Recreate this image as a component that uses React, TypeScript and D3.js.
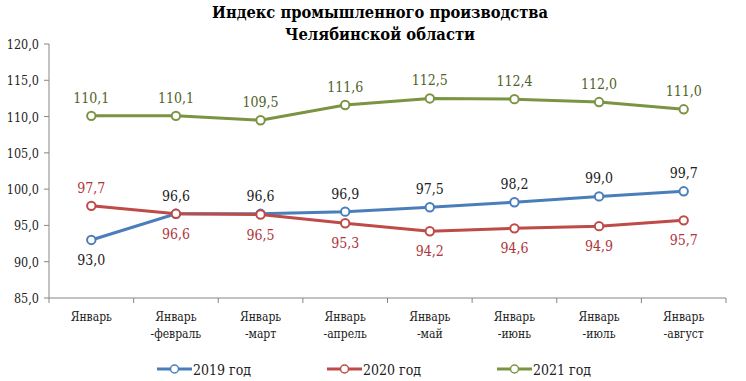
import React from "react";
import * as d3 from "d3";

const categories = [
  ["Январь"],
  ["Январь", "-февраль"],
  ["Январь", "-март"],
  ["Январь", "-апрель"],
  ["Январь", "-май"],
  ["Январь", "-июнь"],
  ["Январь", "-июль"],
  ["Январь", "-август"],
];
const series2019 = [93.0, 96.6, 96.6, 96.9, 97.5, 98.2, 99.0, 99.7];
const series2020 = [97.7, 96.6, 96.5, 95.3, 94.2, 94.6, 94.9, 95.7];
const series2021 = [110.1, 110.1, 109.5, 111.6, 112.5, 112.4, 112.0, 111.0];
const yTicks = [85, 90, 95, 100, 105, 110, 115, 120];
const seriesNames = ["2019 год", "2020 год", "2021 год"];

const W = 746, H = 381;
const left = 49, right = 726, top = 44, bottom = 298;

export default function App() {
  const x = d3.scaleBand<number>().domain(categories.map((_, i) => i)).range([left, right]);
  const y = d3.scaleLinear().domain([85, 120]).range([bottom, top]);
  const cx = (i: number) => (x(i) as number) + x.bandwidth() / 2;
  const fmt = (v: number) => v.toFixed(1).replace(".", ",");
  const line = d3.line<number>().x((_, i) => cx(i)).y((d) => y(d));

  const series = [
    { name: seriesNames[0], data: series2019, color: "#4A7EBB", label: "#222", pos: (i: number) => (i === 0 ? 1 : -1) },
    { name: seriesNames[1], data: series2020, color: "#BE4B48", label: "#B0363A", pos: (i: number) => (i === 0 ? -1 : 1) },
    { name: seriesNames[2], data: series2021, color: "#7A9442", label: "#4F6228", pos: () => -1 },
  ];
  const font = "'DejaVu Serif Condensed', 'DejaVu Serif', serif";

  return (
    <svg width={W} height={H} style={{ position: "absolute", left: 0, top: 0, background: "#fff", fontFamily: font, fontStretch: "condensed" }}>
      <text x={380} y={18} textAnchor="middle" fontWeight="bold" fontSize={17} textLength={336} lengthAdjust="spacingAndGlyphs">
        Индекс промышленного производства
      </text>
      <text x={380} y={40} textAnchor="middle" fontWeight="bold" fontSize={17} textLength={190} lengthAdjust="spacingAndGlyphs">
        Челябинской области
      </text>
      <line x1={left} x2={left} y1={top} y2={bottom} stroke="#868686" />
      {yTicks.map((t) => (
        <g key={t}>
          <line x1={left - 5} x2={left} y1={y(t)} y2={y(t)} stroke="#868686" />
          <text x={39} y={y(t) + 5} textAnchor="end" fontSize={12.5} fill="#222">{fmt(t)}</text>
        </g>
      ))}
      <line x1={left} x2={right} y1={bottom} y2={bottom} stroke="#868686" />
      {categories.map((c, i) => (
        <g key={i}>
          <line x1={x(i) as number} x2={x(i) as number} y1={bottom} y2={bottom + 5} stroke="#868686" />
          {c.map((s, j) => (
            <text key={j} x={cx(i)} y={321 + j * 17} textAnchor="middle" fontSize={12} fill="#222">{s}</text>
          ))}
        </g>
      ))}
      <line x1={right} x2={right} y1={bottom} y2={bottom + 5} stroke="#868686" />
      {series.map((s) => (
        <g key={s.name}>
          <path d={line(s.data) as string} fill="none" stroke={s.color} strokeWidth={3} />
          {s.data.map((v, i) => (
            <circle key={i} cx={cx(i)} cy={y(v)} r={4.2} fill="#fff" stroke={s.color} strokeWidth={2} />
          ))}
          {s.data.map((v, i) => (
            <text key={"t" + i} x={cx(i)} y={y(v) + (s.pos(i) < 0 ? -13 : 25)} textAnchor="middle" fontSize={14} fill={s.label}>
              {fmt(v)}
            </text>
          ))}
        </g>
      ))}
      {series.map((s, k) => {
        const lx = 157 + k * 170;
        return (
          <g key={"l" + s.name}>
            <line x1={lx} x2={lx + 35} y1={369} y2={369} stroke={s.color} strokeWidth={3} />
            <circle cx={lx + 17.5} cy={369} r={4} fill="#fff" stroke={s.color} strokeWidth={1.5} />
            <text x={lx + 36} y={375} fontSize={14} fill="#222">{s.name}</text>
          </g>
        );
      })}
    </svg>
  );
}
